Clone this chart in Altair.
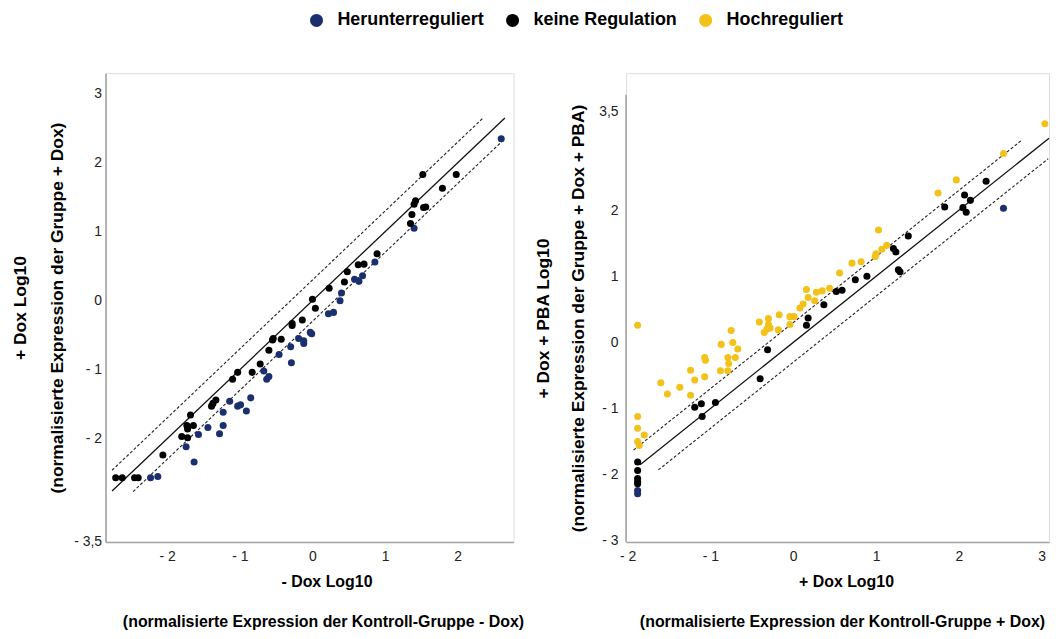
import altair as alt
import pandas as pd

# ---------------- categories / colours ----------------
cats = ["Herunterreguliert", "keine Regulation", "Hochreguliert"]
cat_colors = ["#1b2f6e", "#000000", "#f2c21a"]

# ---------------- left panel: -Dox (x) vs +Dox (y) ----------------
left_none_x = [-2.71, -2.62, -2.45, -2.40, -2.06, -1.80, -1.72, -1.73, -1.72, -1.64, -1.68,
               -1.39, -1.33, -1.37, -1.10, -1.03, -0.83, -0.72, -0.60, -0.55, -0.54, -0.43,
               -0.28, -0.28, -0.14, 0.04, 0.00, 0.23, 0.44, 0.48, 0.63, 0.71, 0.89,
               1.35, 1.37, 1.40, 1.42, 1.53, 1.56, 1.52, 1.79, 1.98]
left_none_y = [-2.57, -2.57, -2.57, -2.57, -2.24, -1.97, -1.99, -1.81, -1.86, -1.81, -1.66,
               -1.53, -1.44, -1.49, -1.14, -1.04, -1.04, -0.92, -0.72, -0.57, -0.55, -0.56,
               -0.36, -0.33, -0.28, -0.11, 0.02, 0.18, 0.27, 0.42, 0.52, 0.53, 0.68,
               1.12, 1.25, 1.40, 1.45, 1.35, 1.36, 1.83, 1.63, 1.83]
left_down_x = [-2.23, -2.13, -1.74, -1.63, -1.57, -1.44, -1.28, -1.23, -1.23, -1.14, -1.03,
               -0.99, -0.91, -0.85, -0.67, -0.63, -0.60, -0.46, -0.29, -0.30, -0.19, -0.12,
               -0.12, -0.03, -0.01, 0.22, 0.29, 0.38, 0.40, 0.58, 0.64, 0.69, 0.86, 1.40, 2.60]
left_down_y = [-2.57, -2.55, -2.12, -2.34, -1.94, -1.84, -1.93, -1.81, -1.62, -1.46, -1.53,
               -1.51, -1.60, -1.41, -1.02, -1.14, -1.10, -0.78, -0.90, -0.67, -0.55, -0.62,
               -0.58, -0.46, -0.48, -0.19, -0.17, 0.00, 0.11, 0.31, 0.28, 0.36, 0.56, 1.05, 2.35]

# reference lines (identity and +/- 0.3 log10), endpoints
left_solid_x0, left_solid_x1, left_solid_y0, left_solid_y1 = [-2.76], [2.65], [-2.76], [2.65]
left_dash_x0 = [-2.76, -2.47]
left_dash_x1 = [2.36, 2.65]
left_dash_y0 = [-2.46, -2.77]
left_dash_y1 = [2.66, 2.35]

left_x_domain = [-2.85, 2.77]
left_y_domain = [-3.5, 3.3]
left_x_ticks = [-2, -1, 0, 1, 2]
left_y_ticks = [-3.5, -2, -1, 0, 1, 2, 3]

# ---------------- right panel: +Dox (x) vs +Dox+PBA (y) ----------------
right_up_x = [-1.88, -1.88, -1.88, -1.80, -1.88, -1.86, -1.60, -1.52, -1.37, -1.24, -1.19,
              -1.24, -1.07, -1.06, -1.07, -0.87, -0.88, -0.79, -0.78, -0.79, -0.75, -0.73,
              -0.70, -0.67, -0.41, -0.30, -0.30, -0.32, -0.35, -0.28, -0.17, -0.18, -0.04,
              0.01, -0.04, 0.08, 0.12, 0.16, 0.18, 0.26, 0.28, 0.35, 0.44, 0.56, 0.71,
              0.82, 0.99, 1.00, 1.07, 1.13, 1.03, 1.75, 1.97, 2.54, 3.04]
right_up_y = [0.26, -1.12, -1.30, -1.40, -1.50, -1.56, -0.61, -0.78, -0.68, -0.42, -0.57,
              -0.80, -0.23, -0.27, -0.52, -0.03, -0.43, -0.23, -0.32, -0.43, 0.18, 0.00,
              -0.23, -0.10, 0.31, 0.36, 0.27, 0.20, 0.15, 0.22, 0.42, 0.19, 0.39,
              0.39, 0.27, 0.52, 0.58, 0.80, 0.68, 0.63, 0.76, 0.78, 0.82, 1.05, 1.20,
              1.22, 1.30, 1.34, 1.41, 1.47, 1.70, 2.26, 2.46, 2.86, 3.31]
right_none_x = [-1.88, -1.88, -1.88, -1.88, -1.88, -1.19, -1.11, -0.94, -1.10, -0.40, -0.31,
                0.16, 0.18, 0.37, 0.52, 0.59, 0.75, 0.89, 1.21, 1.24, 1.27, 1.29, 1.39,
                1.83, 2.07, 2.14, 2.05, 2.09, 2.33]
right_none_y = [-1.81, -1.94, -2.06, -2.11, -2.14, -0.98, -0.93, -0.91, -1.12, -0.55, -0.11,
                0.26, 0.37, 0.57, 0.77, 0.79, 0.95, 1.00, 1.42, 1.37, 1.10, 1.07, 1.61,
                2.05, 2.23, 2.15, 2.04, 1.97, 2.44]
right_down_x = [-1.88, -1.88, 2.54]
right_down_y = [-2.24, -2.29, 2.03]

right_solid_x0, right_solid_x1, right_solid_y0, right_solid_y1 = [-1.85], [3.09], [-1.85], [3.09]
right_dash_x0 = [-1.93, -1.63]
right_dash_x1 = [2.75, 3.08]
right_dash_y0 = [-1.63, -1.93]
right_dash_y1 = [3.05, 2.78]

right_x_domain = [-2.02, 3.09]
right_y_domain = [-3.02, 4.075]      # plot area reaches the same top as the left panel
right_y_axis_extent = [-3.02, 3.75]  # visible axis line of the right panel
right_x_ticks = [-2, -1, 0, 1, 2, 3]
right_y_ticks = [-3, -2, -1, 0, 1, 2, 3.5]

# ---------------- texts ----------------
left_x_title = "- Dox Log10"
left_y_title = ["+ Dox Log10", "(normalisierte Expression der Gruppe + Dox)"]
left_caption = "(normalisierte Expression der Kontroll-Gruppe - Dox)"
right_x_title = "+ Dox Log10"
right_y_title = ["+ Dox + PBA Log10", "(normalisierte Expression der Gruppe + Dox + PBA)"]
right_caption = "(normalisierte Expression der Kontroll-Gruppe + Dox)"

FONT = "Liberation Sans"
NARROW = "Liberation Sans Narrow, Arial Narrow, Liberation Sans, sans-serif"
AXIS_GREY = "#a3a3a3"
LABEL_EXPR = ("datum.value < 0 ? '- ' + replace('' + abs(datum.value), '.', ',') "
              ": replace('' + datum.value, '.', ',')")


def points_frame(xs_list, ys_list, labels):
    rows = []
    for xs, ys, lab in zip(xs_list, ys_list, labels):
        for a, b in zip(xs, ys):
            rows.append({"x": a, "y": b, "cat": lab})
    return pd.DataFrame(rows)


legend = alt.Legend(
    orient="none", direction="horizontal", legendX=203, legendY=-62, title=None,
    symbolType="circle", symbolSize=170, symbolStrokeWidth=0,
    labelFont=NARROW, labelFontSize=18, labelFontWeight="bold", labelColor="#000",
    labelOffset=12, columnPadding=19, padding=0,
)


def panel(pts, sx0, sx1, sy0, sy1, dx0, dx1, dy0, dy1, xdom, ydom, xticks, yticks,
          xtitle, ytitle, caption, w, h, ytitle_pad, ytitle_lh, ylabel_pad,
          xtitle_x, caption_dx, axis_line=None, ytitle_y=None):
    xs = alt.Scale(domain=xdom, nice=False, zero=False)
    ys = alt.Scale(domain=ydom, nice=False, zero=False)
    xaxis = alt.Axis(values=xticks, labelExpr=LABEL_EXPR, title=xtitle, grid=False, ticks=False,
                     domainColor=AXIS_GREY, domainWidth=1.6, labelFont=FONT, labelFontSize=14,
                     labelColor="#222", labelPadding=8, labelFlush=False,
                     titleFont=FONT, titleFontSize=16, titleFontWeight="bold", titleColor="#000",
                     titlePadding=10, titleX=xtitle_x)
    yargs = dict(values=yticks, labelExpr=LABEL_EXPR, title=ytitle, grid=False, ticks=False,
                 domain=axis_line is None,
                 domainColor=AXIS_GREY, domainWidth=1.6, labelFont=FONT, labelFontSize=14,
                 labelColor="#222", labelPadding=ylabel_pad, labelFlush=False,
                 titleFont=FONT, titleFontSize=17.5, titleFontWeight="bold", titleColor="#000",
                 titlePadding=ytitle_pad, titleLineHeight=ytitle_lh)
    if ytitle_y is not None:
        yargs["titleY"] = ytitle_y
    yaxis = alt.Axis(**yargs)

    solid = pd.DataFrame({"x": sx0, "x2": sx1, "y": sy0, "y2": sy1})
    dashed = pd.DataFrame({"x": dx0, "x2": dx1, "y": dy0, "y2": dy1})

    base_solid = alt.Chart(solid).mark_rule(color="#111", strokeWidth=1.3).encode(
        x=alt.X("x:Q", scale=xs, axis=xaxis), y=alt.Y("y:Q", scale=ys, axis=yaxis),
        x2="x2:Q", y2="y2:Q")
    base_dash = alt.Chart(dashed).mark_rule(color="#222", strokeWidth=1.1,
                                             strokeDash=[3, 2]).encode(
        x=alt.X("x:Q", scale=xs), y=alt.Y("y:Q", scale=ys), x2="x2:Q", y2="y2:Q")
    layers = [base_solid, base_dash]
    if axis_line is not None:
        al = pd.DataFrame({"x": [xdom[0]], "y": [axis_line[0]], "y2": [axis_line[1]]})
        layers.append(alt.Chart(al).mark_rule(color=AXIS_GREY, strokeWidth=1.6).encode(
            x=alt.X("x:Q", scale=xs), y=alt.Y("y:Q", scale=ys), y2="y2:Q"))
    pts_layer = alt.Chart(pts).mark_circle(size=50, opacity=1).encode(
        x=alt.X("x:Q", scale=xs),
        y=alt.Y("y:Q", scale=ys),
        color=alt.Color("cat:N", scale=alt.Scale(domain=cats, range=cat_colors), legend=legend),
    )
    layers.append(pts_layer)
    return alt.layer(*layers).properties(
        width=w, height=h,
        title=alt.TitleParams(caption, orient="bottom", anchor="middle", font=NARROW,
                              fontSize=16, fontWeight="bold", color="#000", offset=24,
                              dx=caption_dx),
    )


left_pts = points_frame([left_down_x, left_none_x], [left_down_y, left_none_y],
                        ["Herunterreguliert", "keine Regulation"])
right_pts = points_frame([right_up_x, right_none_x, right_down_x],
                         [right_up_y, right_none_y, right_down_y],
                         ["Hochreguliert", "keine Regulation", "Herunterreguliert"])

left = panel(left_pts, left_solid_x0, left_solid_x1, left_solid_y0, left_solid_y1,
             left_dash_x0, left_dash_x1, left_dash_y0, left_dash_y1,
             left_x_domain, left_y_domain, left_x_ticks, left_y_ticks,
             left_x_title, left_y_title, left_caption, 410, 471,
             ytitle_pad=7, ytitle_lh=37, ylabel_pad=4, xtitle_x=222, caption_dx=14)
right = panel(right_pts, right_solid_x0, right_solid_x1, right_solid_y0, right_solid_y1,
              right_dash_x0, right_dash_x1, right_dash_y0, right_dash_y1,
              right_x_domain, right_y_domain, right_x_ticks, right_y_ticks,
              right_x_title, right_y_title, right_caption, 425, 471,
              ytitle_pad=11, ytitle_lh=35, ylabel_pad=8, xtitle_x=221, caption_dx=5,
              axis_line=right_y_axis_extent, ytitle_y=246)

chart = alt.hconcat(left, right, spacing=9).properties(
    padding={"left": 3, "top": 2, "right": 0, "bottom": 0}
).configure_view(stroke=None).configure(background="white")

chart.save("out.html", embed_options={"renderer": "svg", "actions": False})
